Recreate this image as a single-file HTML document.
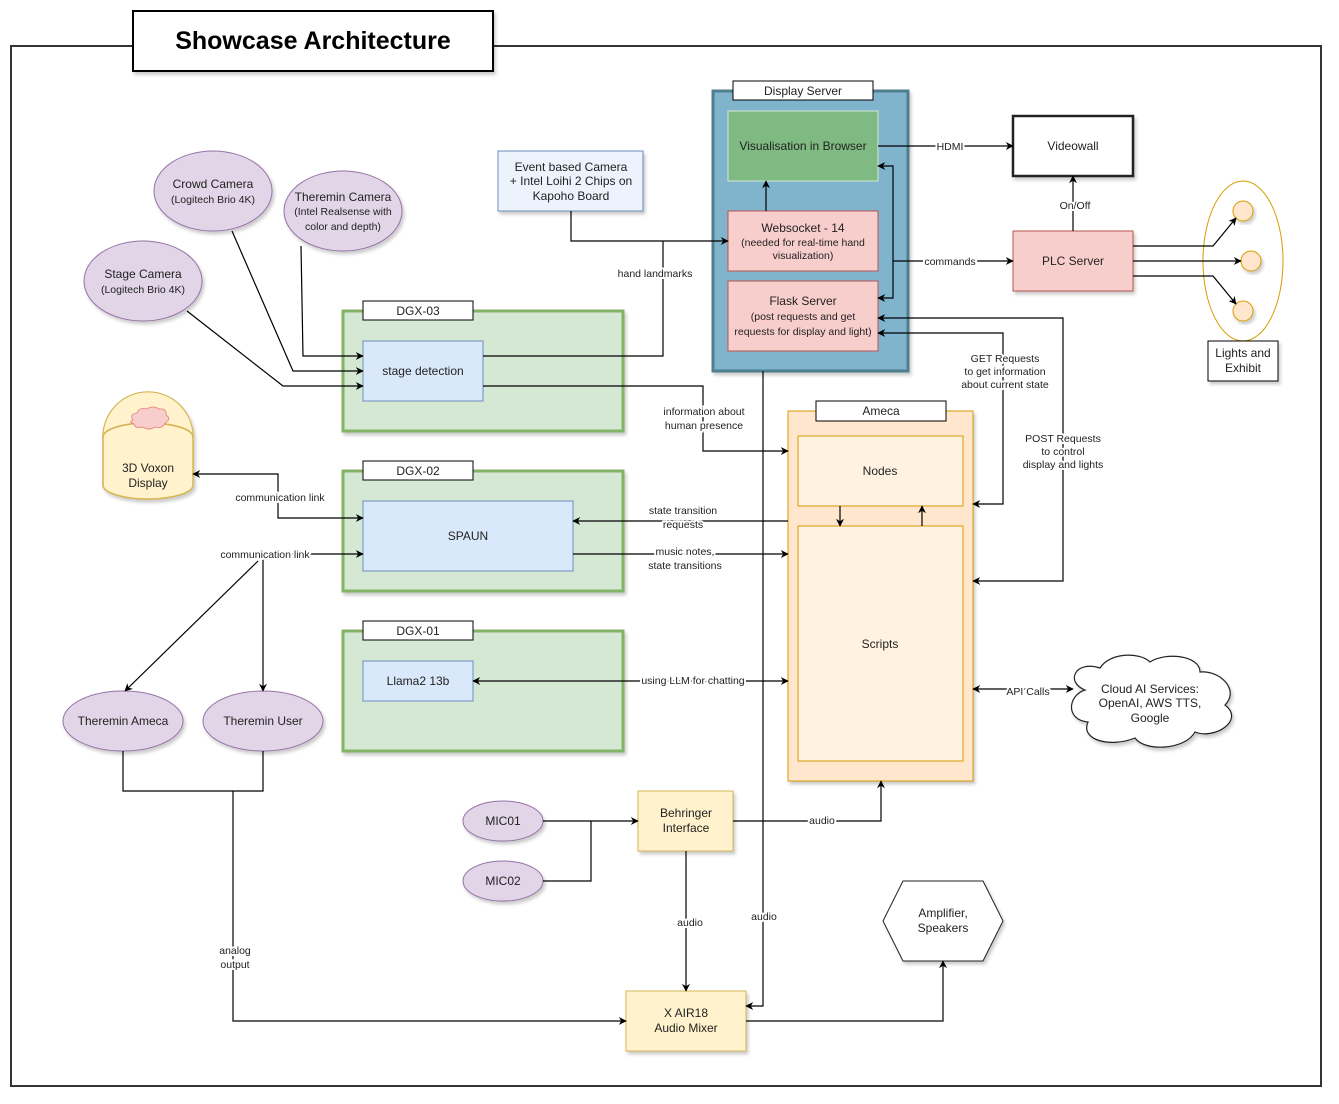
<!DOCTYPE html>
<html><head><meta charset="utf-8"><style>
html,body{margin:0;padding:0;background:#fff;}
svg{display:block;font-family:"Liberation Sans",Arial,sans-serif;}
.t{font-size:12px;fill:#222;text-anchor:middle;}
.s{font-size:10.5px;fill:#222;text-anchor:middle;}
.l{font-size:10.5px;fill:#222;text-anchor:middle;stroke:#fff;stroke-width:4px;paint-order:stroke;stroke-linejoin:round;}
.ln{fill:none;stroke:#000;stroke-width:1.2;}
</style></head><body>
<svg width="1339" height="1104" viewBox="0 0 1339 1104" xmlns="http://www.w3.org/2000/svg">
<defs>
<marker id="a" viewBox="0 0 10 10" refX="9" refY="5" markerWidth="8" markerHeight="8" orient="auto-start-reverse" markerUnits="userSpaceOnUse"><path d="M0,0 L10,5 L0,10 L3,5 z" fill="#000"/></marker>
<filter id="sh" x="-10%" y="-10%" width="130%" height="130%"><feDropShadow dx="2" dy="3" stdDeviation="1.5" flood-color="#000" flood-opacity="0.2"/></filter>
</defs>
<!-- frame -->
<rect x="11" y="46" width="1310" height="1040" fill="none" stroke="#333" stroke-width="2"/>
<rect x="133" y="11" width="360" height="60" fill="#fff" stroke="#000" stroke-width="2" filter="url(#sh)"/>
<text x="313" y="49" style="font-size:25px;font-weight:bold;text-anchor:middle;">Showcase Architecture</text>

<!-- Display server -->
<rect x="713" y="91" width="195" height="280" fill="#80b3cc" stroke="#4f7f8f" stroke-width="3" filter="url(#sh)"/>
<rect x="733" y="81" width="140" height="19" fill="#fff" stroke="#000"/>
<text x="803" y="95" class="t">Display Server</text>
<rect x="728" y="111" width="150" height="70" fill="#7fba82" stroke="#d5e8d4"/>
<text x="803" y="150" class="t">Visualisation in Browser</text>
<rect x="728" y="211" width="150" height="60" fill="#f8cecc" stroke="#b85450"/>
<text x="803" y="232" class="t">Websocket - 14</text>
<text x="803" y="246" class="s">(needed for real-time hand</text>
<text x="803" y="259" class="s">visualization)</text>
<rect x="728" y="281" width="150" height="70" fill="#f8cecc" stroke="#b85450"/>
<text x="803" y="305" class="t">Flask Server</text>
<text x="803" y="320" class="s">(post requests and get</text>
<text x="803" y="335" class="s">requests for display and light)</text>

<!-- Videowall / PLC -->
<rect x="1013" y="116" width="120" height="60" fill="#fff" stroke="#222" stroke-width="2.5" filter="url(#sh)"/>
<text x="1073" y="150" class="t">Videowall</text>
<rect x="1013" y="231" width="120" height="60" fill="#f8cecc" stroke="#b85450" filter="url(#sh)"/>
<text x="1073" y="265" class="t">PLC Server</text>

<!-- Lights -->
<ellipse cx="1243" cy="261" rx="40" ry="80" fill="none" stroke="#d79b00"/>
<circle cx="1243" cy="211" r="10" fill="#ffe6cc" stroke="#d79b00" filter="url(#sh)"/>
<circle cx="1251" cy="261" r="10" fill="#ffe6cc" stroke="#d79b00" filter="url(#sh)"/>
<circle cx="1243" cy="311" r="10" fill="#ffe6cc" stroke="#d79b00" filter="url(#sh)"/>
<rect x="1208" y="341" width="70" height="40" fill="#fff" stroke="#000" filter="url(#sh)"/>
<text x="1243" y="357" class="t">Lights and</text>
<text x="1243" y="372" class="t">Exhibit</text>

<!-- Event camera -->
<rect x="498" y="151" width="145" height="60" fill="#edf3fc" stroke="#6c8ebf" filter="url(#sh)"/>
<text x="571" y="171" class="t">Event based Camera</text>
<text x="571" y="185" class="t">+ Intel Loihi 2 Chips on</text>
<text x="571" y="200" class="t">Kapoho Board</text>

<!-- cameras -->
<ellipse cx="213" cy="191" rx="59" ry="40" fill="#e1d5e7" stroke="#9673a6" filter="url(#sh)"/>
<text x="213" y="188" class="t">Crowd Camera</text>
<text x="213" y="203" class="s">(Logitech Brio 4K)</text>
<ellipse cx="343" cy="211" rx="59" ry="40" fill="#e1d5e7" stroke="#9673a6" filter="url(#sh)"/>
<text x="343" y="201" class="t">Theremin Camera</text>
<text x="343" y="215" class="s">(Intel Realsense with</text>
<text x="343" y="230" class="s">color and depth)</text>
<ellipse cx="143" cy="281" rx="59" ry="40" fill="#e1d5e7" stroke="#9673a6" filter="url(#sh)"/>
<text x="143" y="278" class="t">Stage Camera</text>
<text x="143" y="293" class="s">(Logitech Brio 4K)</text>

<!-- DGX boxes -->
<rect x="343" y="311" width="280" height="120" fill="#d5e8d4" stroke="#82b366" stroke-width="3" filter="url(#sh)"/>
<rect x="363" y="301" width="110" height="19" fill="#fff" stroke="#000"/>
<text x="418" y="315" class="t">DGX-03</text>
<rect x="363" y="341" width="120" height="60" fill="#dae8fc" stroke="#6c8ebf"/>
<text x="423" y="375" class="t">stage detection</text>

<rect x="343" y="471" width="280" height="120" fill="#d5e8d4" stroke="#82b366" stroke-width="3" filter="url(#sh)"/>
<rect x="363" y="461" width="110" height="19" fill="#fff" stroke="#000"/>
<text x="418" y="475" class="t">DGX-02</text>
<rect x="363" y="501" width="210" height="70" fill="#dae8fc" stroke="#6c8ebf"/>
<text x="468" y="540" class="t">SPAUN</text>

<rect x="343" y="631" width="280" height="120" fill="#d5e8d4" stroke="#82b366" stroke-width="3" filter="url(#sh)"/>
<rect x="363" y="621" width="110" height="19" fill="#fff" stroke="#000"/>
<text x="418" y="635" class="t">DGX-01</text>
<rect x="363" y="661" width="110" height="40" fill="#dae8fc" stroke="#6c8ebf"/>
<text x="418" y="685" class="t">Llama2 13b</text>

<!-- Voxon -->
<g filter="url(#sh)">
<path d="M103,437 L103,485 A45,14 0 0 0 193,485 L193,437 A45,45 0 0 0 103,437 Z" fill="#fff2cc" stroke="#d6b656" stroke-width="1.5"/>
<path d="M103,437 A45,14 0 0 1 193,437" fill="none" stroke="#d6b656" stroke-width="1.5"/>
</g>
<path d="M103,437 A45,45 0 0 1 193,437" fill="#fff2cc" stroke="#d6b656" stroke-width="0"/>
<path d="M103,437 L103,485 A45,14 0 0 0 193,485 L193,437 A45,14 0 0 0 103,437" fill="#fff2cc" stroke="#d6b656" stroke-width="1.5"/>
<path d="M103,437 A45,14 0 0 1 193,437" fill="none" stroke="#d6b656" stroke-width="1.5"/>
<path d="M103,437 A45,45 0 0 1 193,437" fill="none" stroke="#d6b656" stroke-width="0.8"/>
<path d="M133,420 q-4,-6 4,-7 q2,-6 10,-4 q6,-4 12,0 q8,-1 7,6 q6,4 -1,8 q-2,6 -10,4 q-6,4 -12,0 q-8,2 -9,-3 q-6,-2 -1,-4z" fill="#f8cecc" stroke="#e57a7a" stroke-width="0.8"/>
<text x="148" y="472" class="t">3D Voxon</text>
<text x="148" y="487" class="t">Display</text>

<!-- Ameca -->
<rect x="788" y="411" width="185" height="370" fill="#ffe6cc" stroke="#d79b00" filter="url(#sh)"/>
<rect x="816" y="401" width="130" height="20" fill="#fff" stroke="#000"/>
<text x="881" y="415" class="t">Ameca</text>
<rect x="798" y="436" width="165" height="70" fill="#fff2e0" stroke="#d79b00"/>
<text x="880" y="475" class="t">Nodes</text>
<rect x="798" y="526" width="165" height="235" fill="#fff2e0" stroke="#d79b00"/>
<text x="880" y="648" class="t">Scripts</text>

<!-- Cloud -->
<path d="M1085,690 C1065,682 1075,660 1100,668 C1110,652 1140,652 1150,662 C1165,652 1200,655 1200,672 C1220,670 1240,690 1225,705 C1245,720 1215,740 1195,732 C1185,750 1145,752 1135,738 C1110,748 1080,740 1088,722 C1065,720 1068,695 1085,690 Z" fill="#fff" stroke="#222" stroke-width="1.2" filter="url(#sh)"/>
<text x="1150" y="693" class="t">Cloud AI Services:</text>
<text x="1150" y="707" class="t">OpenAI, AWS TTS,</text>
<text x="1150" y="722" class="t">Google</text>

<!-- Theremins -->
<ellipse cx="123" cy="721" rx="60" ry="30" fill="#e1d5e7" stroke="#9673a6" filter="url(#sh)"/>
<text x="123" y="725" class="t">Theremin Ameca</text>
<ellipse cx="263" cy="721" rx="60" ry="30" fill="#e1d5e7" stroke="#9673a6" filter="url(#sh)"/>
<text x="263" y="725" class="t">Theremin User</text>

<!-- Mics -->
<ellipse cx="503" cy="821" rx="40" ry="20" fill="#e1d5e7" stroke="#9673a6" filter="url(#sh)"/>
<text x="503" y="825" class="t">MIC01</text>
<ellipse cx="503" cy="881" rx="40" ry="20" fill="#e1d5e7" stroke="#9673a6" filter="url(#sh)"/>
<text x="503" y="885" class="t">MIC02</text>

<rect x="638" y="791" width="95" height="60" fill="#fff2cc" stroke="#d6b656" filter="url(#sh)"/>
<text x="686" y="817" class="t">Behringer</text>
<text x="686" y="832" class="t">Interface</text>
<rect x="626" y="991" width="120" height="60" fill="#fff2cc" stroke="#d6b656" filter="url(#sh)"/>
<text x="686" y="1017" class="t">X AIR18</text>
<text x="686" y="1032" class="t">Audio Mixer</text>
<polygon points="903,881 983,881 1003,921 983,961 903,961 883,921" fill="#fff" stroke="#222" filter="url(#sh)"/>
<text x="943" y="917" class="t">Amplifier,</text>
<text x="943" y="932" class="t">Speakers</text>

<!-- connectors -->
<g class="ln">
<path d="M878,146 L1013,146" marker-end="url(#a)"/>
<path d="M878,166 L893,166 L893,298 L878,298" marker-start="url(#a)" marker-end="url(#a)"/>
<path d="M893,261 L1013,261" marker-end="url(#a)"/>
<path d="M766,211 L766,181" marker-end="url(#a)"/>
<path d="M1073,231 L1073,176" marker-end="url(#a)"/>
<path d="M1133,246 L1213,246 L1236,218" marker-end="url(#a)"/>
<path d="M1133,261 L1241,261" marker-end="url(#a)"/>
<path d="M1133,276 L1213,276 L1236,304" marker-end="url(#a)"/>
<path d="M571,211 L571,241 L728,241" marker-end="url(#a)"/>
<path d="M483,356 L663,356 L663,241"/>
<path d="M301,246 L303,356 L363,356" marker-end="url(#a)"/>
<path d="M232,231 L293,371 L363,371" marker-end="url(#a)"/>
<path d="M187,311 L283,386 L363,386" marker-end="url(#a)"/>
<path d="M483,386 L703,386 L703,451 L788,451" marker-end="url(#a)"/>
<path d="M878,333 L1003,333 L1003,504 L973,504" marker-start="url(#a)" marker-end="url(#a)"/>
<path d="M878,318 L1063,318 L1063,581 L973,581" marker-start="url(#a)" marker-end="url(#a)"/>
<path d="M763,371 L763,1006 L746,1006" marker-end="url(#a)"/>
<path d="M840,506 L840,526" marker-end="url(#a)"/>
<path d="M922,526 L922,506" marker-end="url(#a)"/>
<path d="M788,521 L573,521" marker-end="url(#a)"/>
<path d="M573,554 L788,554" marker-end="url(#a)"/>
<path d="M473,681 L788,681" marker-start="url(#a)" marker-end="url(#a)"/>
<path d="M973,689 L1073,689" marker-start="url(#a)" marker-end="url(#a)"/>
<path d="M193,474 L278,474 L278,518 L363,518" marker-start="url(#a)" marker-end="url(#a)"/>
<path d="M263,554 L363,554" marker-end="url(#a)"/>
<path d="M258,561 L125,691" marker-end="url(#a)"/>
<path d="M263,554 L263,691" marker-end="url(#a)"/>
<path d="M123,751 L123,791 L263,791 L263,751"/>
<path d="M233,791 L233,1021 L626,1021" marker-end="url(#a)"/>
<path d="M543,821 L638,821" marker-end="url(#a)"/>
<path d="M543,881 L591,881 L591,821"/>
<path d="M733,821 L881,821 L881,781" marker-end="url(#a)"/>
<path d="M686,851 L686,991" marker-end="url(#a)"/>
<path d="M746,1021 L943,1021 L943,961" marker-end="url(#a)"/>
</g>

<!-- labels -->
<text x="950" y="150" class="l">HDMI</text>
<text x="950" y="265" class="l">commands</text>
<text x="1075" y="209" class="l">On/Off</text>
<text x="655" y="277" class="l">hand landmarks</text>
<text x="704" y="415" class="l">information about</text>
<text x="704" y="429" class="l">human presence</text>
<text x="1005" y="362" class="l">GET Requests</text>
<text x="1005" y="375" class="l">to get information</text>
<text x="1005" y="388" class="l">about current state</text>
<text x="1063" y="442" class="l">POST Requests</text>
<text x="1063" y="455" class="l">to control</text>
<text x="1063" y="468" class="l">display and lights</text>
<text x="683" y="514" class="l">state transition</text>
<text x="683" y="528" class="l">requests</text>
<text x="685" y="555" class="l">music notes,</text>
<text x="685" y="569" class="l">state transitions</text>
<text x="693" y="684" class="l">using LLM for chatting</text>
<text x="1028" y="695" class="l">API Calls</text>
<text x="280" y="501" class="l">communication link</text>
<text x="265" y="558" class="l">communication link</text>
<text x="235" y="954" class="l">analog</text>
<text x="235" y="968" class="l">output</text>
<text x="822" y="824" class="l">audio</text>
<text x="690" y="926" class="l">audio</text>
<text x="764" y="920" class="l">audio</text>
</svg>
</body></html>
